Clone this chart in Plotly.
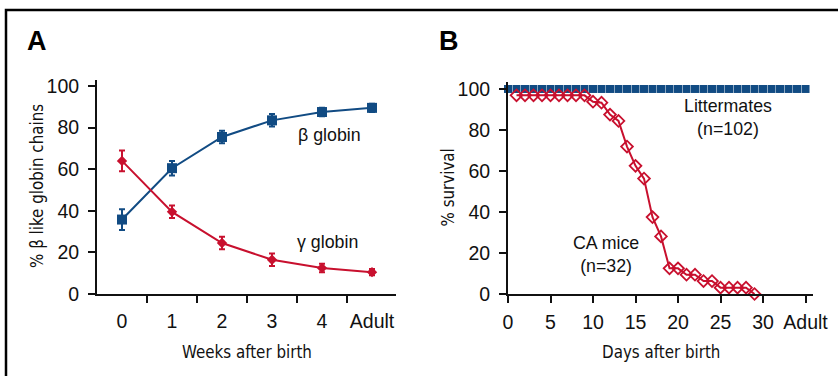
import plotly.graph_objects as go

# ---------------- Data ----------------
# Panel A
weeks_labels = ["0", "1", "2", "3", "4", "Adult"]
weeks_pos = [0.5, 1.5, 2.5, 3.5, 4.5, 5.5]
weeks_boundaries = [1, 2, 3, 4, 5]
beta_globin = [35.8, 60.5, 75.5, 83.5, 87.5, 89.5]
beta_err = [5.0, 3.5, 3.0, 3.0, 2.0, 2.0]
gamma_globin = [64.0, 39.5, 24.5, 16.5, 12.5, 10.5]
gamma_err = [5.0, 3.0, 3.0, 3.0, 2.0, 1.5]

# Panel B
litter_days = [0, 1, 2, 3, 4, 5, 6, 7, 8, 9, 10, 11, 12, 13, 14, 15, 16, 17,
               18, 19, 20, 21, 22, 23, 24, 25, 26, 27, 28, 29, 30, 31, 32, 33, 34, 35]
litter_surv = [100, 100, 100, 100, 100, 100, 100, 100, 100, 100, 100, 100,
               100, 100, 100, 100, 100, 100, 100, 100, 100, 100, 100, 100,
               100, 100, 100, 100, 100, 100, 100, 100, 100, 100, 100, 100]
ca_days = [1, 2, 3, 4, 5, 6, 7, 8, 9, 10, 11, 12, 13, 14, 15, 16, 17, 18, 19,
           20, 21, 22, 23, 24, 25, 26, 27, 28, 29]
ca_surv = [96.9, 96.9, 96.9, 96.9, 96.9, 96.9, 96.9, 96.9, 96.9, 93.8, 93.3,
           87.5, 84.4, 71.9, 62.5, 56.3, 37.5, 28.1, 12.5, 12.5, 9.4, 9.4,
           6.3, 6.3, 3.1, 3.1, 3.1, 3.1, 0.0]
days_ticks = [0, 5, 10, 15, 20, 25, 30, 35]
days_labels = ["0", "5", "10", "15", "20", "25", "30", "Adult"]
y_ticks = [0, 20, 40, 60, 80, 100]

BLUE = "#114b83"
RED = "#c8102e"
W, H = 838, 376
TICKFONT = dict(family="Liberation Sans, Arial, Helvetica, sans-serif", size=19.5, color="#111")
NARROW = "DejaVu Sans Condensed, Liberation Sans Narrow, sans-serif"
ANNFONT = dict(family="Liberation Sans, Arial, Helvetica, sans-serif", size=17.8, color="#111")

def px_x(p):
    return p / W

def px_y(p):
    return 1 - p / H

fig = go.Figure()

# Panel A traces
fig.add_trace(go.Scatter(
    x=weeks_pos, y=beta_globin, mode="lines+markers", xaxis="x", yaxis="y",
    line=dict(color=BLUE, width=2),
    marker=dict(symbol="square", size=10, color=BLUE),
    error_y=dict(type="data", array=beta_err, color=BLUE, thickness=2, width=3),
    cliponaxis=False, showlegend=False))
fig.add_trace(go.Scatter(
    x=weeks_pos, y=gamma_globin, mode="lines+markers", xaxis="x", yaxis="y",
    line=dict(color=RED, width=2),
    marker=dict(symbol="diamond", size=8, color=RED),
    error_y=dict(type="data", array=gamma_err, color=RED, thickness=2, width=3),
    cliponaxis=False, showlegend=False))
# carrier for the category-label axis of panel A (no visible marks)
fig.add_trace(go.Scatter(
    x=weeks_pos, y=[None] * len(weeks_pos), mode="markers", xaxis="x3", yaxis="y",
    showlegend=False, hoverinfo="skip"))

# Panel B traces
fig.add_trace(go.Scatter(
    x=litter_days, y=litter_surv, mode="markers", xaxis="x2", yaxis="y2",
    marker=dict(symbol="square", size=8, color=BLUE),
    cliponaxis=False, showlegend=False))
fig.add_trace(go.Scatter(
    x=ca_days, y=ca_surv, mode="lines+markers", xaxis="x2", yaxis="y2",
    line=dict(color=RED, width=2),
    marker=dict(symbol="diamond-open", size=9, color=RED, line=dict(width=1.8, color=RED)),
    cliponaxis=False, showlegend=False))

axis_common = dict(showgrid=False, zeroline=False, showline=True, linecolor="#111",
                   linewidth=2, ticks="outside", ticklen=7, tickwidth=2,
                   tickcolor="#111", tickfont=TICKFONT)

fig.update_layout(
    width=W, height=H, margin=dict(l=0, r=0, t=0, b=0, autoexpand=False),
    paper_bgcolor="white", plot_bgcolor="white",
    xaxis=dict(domain=[px_x(97), px_x(396)], range=[0, 5.98], anchor="y",
               tickvals=weeks_boundaries, showticklabels=False, **axis_common),
    xaxis3=dict(domain=[px_x(97), px_x(396)], range=[0, 5.98], anchor="y",
                overlaying="x", tickvals=weeks_pos, ticktext=weeks_labels,
                showgrid=False, zeroline=False, showline=False, ticks="outside",
                ticklen=7, tickcolor="rgba(0,0,0,0)",
                tickfont=TICKFONT, ticklabelstandoff=3),
    yaxis=dict(domain=[px_y(294), px_y(80)], range=[0, 102.9], anchor="x",
               tickvals=y_ticks, ticklabelstandoff=5, **axis_common),
    xaxis2=dict(domain=[px_x(508), px_x(813)], range=[0, 35.88], anchor="y2",
                tickvals=days_ticks, ticktext=days_labels, ticklabelstandoff=3,
                **axis_common),
    yaxis2=dict(domain=[px_y(294), px_y(82)], range=[0, 103.4], anchor="x2",
                tickvals=y_ticks, ticklabelstandoff=5, **axis_common),
)

ann = []
def paper_text(text, x, y, font, angle=0):
    ann.append(dict(text=text, x=px_x(x), y=px_y(y), xref="paper", yref="paper",
                    xanchor="center", yanchor="middle", textangle=angle,
                    showarrow=False, font=font))

BOLD = dict(family="Liberation Sans, Arial, sans-serif", size=27, color="#000")
TITLE = dict(family=NARROW, size=16.8, color="#111")
# Panel letters
paper_text("<b>A</b>", 37, 41, BOLD)
paper_text("<b>B</b>", 449, 41, BOLD)
# Axis titles
paper_text("Weeks after birth", 247, 352, TITLE)
paper_text("Days after birth", 661, 352, TITLE)
paper_text("% β like globin chains", 37, 186, TITLE, -90)
paper_text("% survival", 447.5, 188, TITLE, -90)
# Series labels
ann.append(dict(text="β globin", x=4.65, y=76.4, xref="x", yref="y", showarrow=False,
                xanchor="center", yanchor="middle", font=ANNFONT))
ann.append(dict(text="γ globin", x=4.61, y=25.1, xref="x", yref="y", showarrow=False,
                xanchor="center", yanchor="middle", font=ANNFONT))
ann.append(dict(text="Littermates<br>(n=102)", x=25.9, y=86.2, xref="x2", yref="y2",
                xanchor="center", yanchor="middle", showarrow=False, font=ANNFONT))
ann.append(dict(text="CA mice<br>(n=32)", x=11.56, y=19.3, xref="x2", yref="y2",
                xanchor="center", yanchor="middle", showarrow=False, font=ANNFONT))
fig.update_layout(annotations=ann)

# Frame (top and left edges)
fig.add_shape(type="path", xref="paper", yref="paper",
              path=f"M {px_x(6)},0 L {px_x(6)},{px_y(10)} L 1,{px_y(10)}",
              line=dict(color="#000", width=2.5))

fig.write_html("out.html", config={"displayModeBar": False},
               post_script="document.body.style.margin='0';")
